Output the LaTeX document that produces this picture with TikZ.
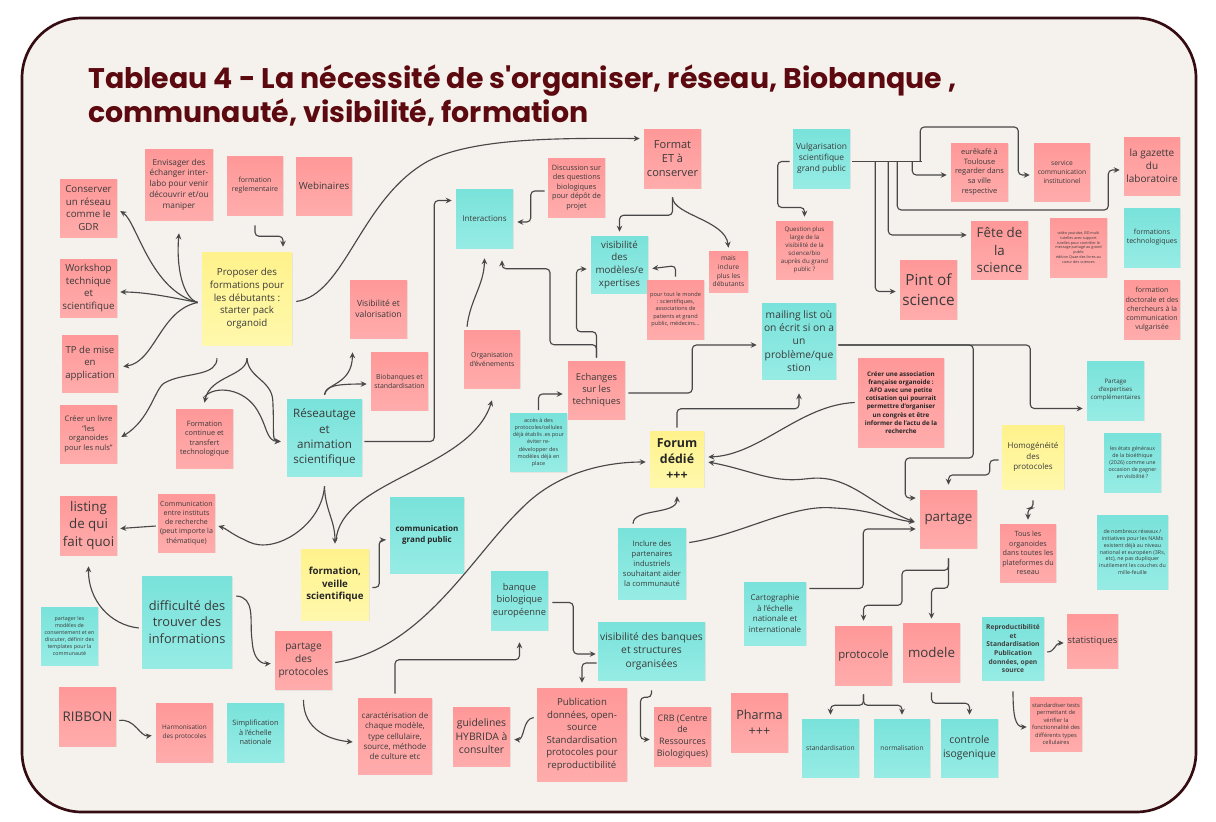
\documentclass[tikz,border=0pt]{standalone}
\usepackage{fontspec}
\setmainfont{Open Sans}
\newfontfamily\titlefont{Poppins}
\usepackage{tikz}
\usetikzlibrary{arrows.meta,calc,shadows}
\definecolor{paper}{RGB}{245,241,236}
\definecolor{framecol}{RGB}{52,12,18}
\definecolor{titlecol}{RGB}{92,10,16}
\definecolor{linkgray}{RGB}{72,72,72}
\definecolor{inkgray}{RGB}{58,58,58}
\definecolor{pinktop}{RGB}{255,152,152}
\definecolor{pinkbot}{RGB}{255,172,172}
\definecolor{tealtop}{RGB}{121,226,218}
\definecolor{tealbot}{RGB}{150,236,229}
\definecolor{yeltop}{RGB}{255,242,140}
\definecolor{yelbot}{RGB}{255,248,172}
\newcommand\notesize[1]{\fontsize{#1pt}{\dimexpr #1pt*13/10\relax}\selectfont}

\begin{document}
\begin{tikzpicture}[x=0.75pt, y=-0.75pt,
    note/.style={align=center, inner sep=0pt, text=inkgray,
        minimum width=42.75pt, minimum height=43.5pt,
        drop shadow={shadow xshift=0.4pt, shadow yshift=-0.9pt, opacity=0.12}},
    sz/.style 2 args={minimum width=#1*0.75pt, minimum height=#2*0.75pt},
    fs/.style={font=\notesize{#1}},
    pk/.style={note, top color=pinktop, bottom color=pinkbot},
    tl/.style={note, top color=tealtop, bottom color=tealbot},
    yl/.style={note, top color=yeltop, bottom color=yelbot},
    link/.style={draw=linkgray, line width=0.85pt, rounded corners=3pt,
        -{Stealth[length=4.5pt, width=4.2pt]}},
]
    \useasboundingbox (0,0) rectangle (1216,821);
    \draw[framecol, line width=2pt, fill=paper, rounded corners=45pt] (22,18) rectangle (1196,812);

    % title
    \node[anchor=base west, inner sep=0pt, text=titlecol, font=\titlefont\bfseries\fontsize{21.3}{26}\selectfont] (title1) at (88,88)
        {Tableau 4 - La nécessité de s'organiser, réseau, Biobanque ,};
    \node[anchor=base west, inner sep=0pt, text=titlecol, font=\titlefont\bfseries\fontsize{21.3}{26}\selectfont] (title2) at (88,122)
        {communauté, visibilité, formation};

    % left column: formations
    \node[pk, fs=7.3] (conserver) at (88.5,208) {Conserver\\un réseau\\comme le\\GDR};
    \node[pk, sz={68}{71}, fs=6.2] (envisager) at (179,184.5) {Envisager des\\échanger inter-\\labo pour venir\\découvrir et/ou\\maniper};
    \node[pk, sz={56}{59}, fs=5.3] (reglement) at (255,185.5) {formation\\reglementaire};
    \node[pk, sz={56}{58}, fs=7.3] (webinaires) at (324,186) {Webinaires};
    \node[pk, fs=7.3] (workshop) at (88.5,288) {Workshop\\technique\\et\\scientifique};
    \node[yl, sz={90}{93}, fs=7.3] (proposer) at (247,298.5) {Proposer des\\formations pour\\les débutants :\\starter pack\\organoid};
    \node[pk, sz={56}{57}, fs=7.2] (tpmise) at (90,363.5) {TP de mise\\en\\application};
    \node[pk, fs=5.7] (livre) at (88.5,434) {Créer un livre\\"les\\organoides\\pour les nuls"};
    \node[pk, sz={57}{59}, fs=5.5] (fcontinue) at (204.5,438.5) {Formation\\continue et\\transfert\\technologique};
    \node[tl, sz={75}{77}, fs=8.7] (reseautage) at (324.5,437.5) {Réseautage\\et\\animation\\scientifique};
    \node[pk, sz={57}{59}, fs=10] (listing) at (88.5,525.5) {listing\\de qui\\fait quoi};
    \node[pk, fs=5.3] (commrech) at (186.5,523) {Communication\\entre instituts\\de recherche\\(peut importe la\\thématique)};
    \node[yl, sz={68}{71}, font=\notesize{7.3}\bfseries, text=black!85] (veille) at (335,584.5) {formation,\\veille\\scientifique};
    \node[tl, sz={90}{92}, fs=9.6] (difficulte) at (187,622) {difficulté des\\trouver des\\informations};
    \node[tl, fs=4] (consent) at (69.5,636) {partager les\\modèles de\\consentement et en\\discuter, définir des\\templates pour la\\communauté};
    \node[pk, fs=7.6] (pprotocoles) at (303.5,660.5) {partage\\des\\protocoles};
    \node[pk, sz={57}{59}, fs=10] (ribbon) at (87.5,716.5) {RIBBON};
    \node[pk, sz={57}{59}, fs=4.8] (harmon) at (184.5,732.5) {Harmonisation\\des protocoles};
    \node[tl, sz={57}{59}, fs=5.5] (simplif) at (255.5,732.5) {Simplification\\à l'échelle\\nationale};

    % centre
    \node[tl, sz={57}{59}, fs=6] (interactions) at (484.5,218.5) {Interactions};
    \node[pk, sz={57}{59}, fs=5.5] (discussion) at (576.5,187.5) {Discussion sur\\des questions\\biologiques\\pour dépôt de\\projet};
    \node[pk, fs=6.4] (visival) at (378.5,309) {Visibilité et\\valorisation};
    \node[pk, fs=5.2] (biobanques) at (399.5,381) {Biobanques et\\standardisation};
    \node[pk, sz={56}{58}, fs=5.2] (organisation) at (492,359) {Organisation\\d'événements};
    \node[pk, fs=7] (echanges) at (596.5,390) {Echanges\\sur les\\techniques};
    \node[pk, sz={57}{59}, fs=8.3] (format) at (672.5,158.5) {Format\\ET à\\conserver};
    \node[tl, sz={57}{59}, fs=6.3] (vulgar) at (821.5,158.5) {Vulgarisation\\scientifique\\grand public};
    \node[tl, sz={57}{57}, fs=7.3] (vismodeles) at (619.5,264.5) {visibilité\\des\\modèles/e\\xpertises};
    \node[pk, sz={39}{41}, fs=5] (debutants) at (728.5,271.5) {mais\\inclure\\plus les\\débutants};
    \node[pk, sz={57}{59}, fs=4.2] (toutmonde) at (675.5,309.5) {pour tout le monde\\: scientifiques,\\associations de\\patients et grand\\public, médecins...};
    \node[pk, fs=4.6] (question) at (804.5,250) {Question plus\\large de la\\visibilité de la\\science/bio\\auprès du grand\\public ?};
    \node[tl, sz={74}{76}, fs=7.7] (mailing) at (799,341) {mailing list où\\on écrit si on a\\un\\problème/que\\stion};
    \node[pk, sz={86}{89}, font=\notesize{4.7}\bfseries, text=black!85] (asso) at (901,402.5) {Créer une association\\française organoide :\\AFO avec une petite\\cotisation qui pourrait\\permettre d'organiser\\un congrès et être\\informer de l'actu de la\\recherche};
    \node[tl, fs=4.1] (acces) at (538.5,442.5) {accès à des\\protocoles/cellules\\déjà établis .es pour\\éviter re-\\développer des\\modèles déjà en\\place};
    \node[yl, sz={54}{56}, font=\notesize{9.3}\bfseries, text=black!85] (forum) at (677,459) {Forum\\dédié\\+++};
    \node[tl, sz={74}{76}, font=\notesize{6}\bfseries, text=black!85] (commgp) at (427,535) {communication\\grand public};
    \node[tl, sz={68}{71}, fs=5.7] (inclure) at (652,563.5) {Inclure des\\partenaires\\industriels\\souhaitant aider\\la communauté};
    \node[tl, sz={62}{63}, fs=6] (cartographie) at (775,613.5) {Cartographie\\à l'échelle\\nationale et\\internationale};
    \node[tl, sz={57}{59}, fs=7] (banque) at (519.5,600.5) {banque\\biologique\\européenne};
    \node[tl, sz={107}{58}, fs=7.7] (visbanques) at (651.5,651) {visibilité des banques\\et structures\\organisées};
    \node[pk, sz={74}{76}, fs=6] (caracter) at (395,736) {caractérisation de\\chaque modèle,\\type cellulaire,\\source, méthode\\de culture etc};
    \node[pk, sz={57}{59}, fs=7.8] (hybrida) at (481.5,736.5) {guidelines\\HYBRIDA à\\consulter};
    \node[pk, sz={90}{93}, fs=7.2] (publication) at (582,734.5) {Publication\\données, open-\\source\\Standardisation\\protocoles pour\\reproductibilité};
    \node[pk, sz={57}{59}, fs=6.7] (crb) at (682.5,736.5) {CRB (Centre\\de\\Ressources\\Biologiques)};
    \node[pk, sz={57}{59}, fs=9.5] (pharma) at (759.5,722.5) {Pharma\\+++};

    % right part
    \node[pk, fs=5.6] (eurekafe) at (979.5,172) {eurêkafé à\\Toulouse\\regarder dans\\sa ville\\respective};
    \node[pk, sz={56}{58}, fs=5] (servcomm) at (1062,172) {service\\communication\\institutionel};
    \node[pk, sz={56}{58}, fs=7.5] (gazette) at (1152,166) {la gazette\\du\\laboratoire};
    \node[pk, fs=10] (fete) at (999.5,250) {Fête de\\la\\science};
    \node[pk, sz={57}{59}, fs=2.8] (youtube) at (1078.5,247.5) {vidéo youtube, BD multi\\tutelles avec support\\tutelles pour contrôler le\\message partagé au grand\\public\\édition Quae des livres au\\coeur des sciences};
    \node[tl, sz={56}{59}, fs=5.3] (ftechno) at (1152,237.5) {formations\\technologiques};
    \node[pk, sz={57}{59}, fs=11.5] (pint) at (928.5,289.5) {Pint of\\science};
    \node[pk, sz={56}{59}, fs=5.3] (fdoct) at (1152,309.5) {formation\\doctorale et des\\chercheurs à la\\communication\\vulgarisée};
    \node[tl, sz={57}{59}, fs=4.6] (expertises) at (1115.5,390.5) {Partage\\d'expertises\\complémentaires};
    \node[yl, sz={62}{64}, fs=6] (homog) at (1033,457) {Homogénéité\\des\\protocoles};
    \node[tl, sz={57}{59}, fs=4] (bioethique) at (1132.5,462.5) {les états généraux\\de la bioéthique\\(2026) comme une\\occasion de gagner\\en visibilité ?};
    \node[pk, fs=10] (partage) at (948.5,519) {partage};
    \node[pk, sz={56}{58}, fs=5.4] (tousorg) at (1028,553) {Tous les\\organoides\\dans toutes les\\plateformes du\\reseau};
    \node[tl, sz={71}{74}, fs=4] (nams) at (1132.5,552) {de nombreux réseaux /\\initiatives pour les NAMs\\existent déjà au niveau\\national et européen (3Rs,\\etc), ne pas dupliquer\\inutilement les couches du\\mille-feuille};
    \node[pk, sz={57}{59}, fs=8.5] (protocole) at (863.5,655.5) {protocole};
    \node[pk, sz={57}{59}, fs=10] (modele) at (931.5,652.5) {modele};
    \node[tl, fs=5] (standard) at (830.5,748) {standardisation};
    \node[tl, sz={56}{58}, fs=5] (normal) at (902,748) {normalisation};
    \node[tl, fs=7.8] (isogen) at (969.5,748) {controle\\isogenique};
    \node[tl, sz={62}{63}, font=\notesize{5}\bfseries, text=black!75] (reprod) at (1013,648.5) {Reproductibilité\\et\\Standardisation\\Publication\\données, open\\source};
    \node[pk, sz={51}{54}, fs=7] (stats) at (1092.5,641) {statistiques};
    \node[pk, sz={52}{54}, fs=4.3] (stdtests) at (1056,724) {standardiser tests\\permettant de\\vérifier la\\fonctionnalité des\\différents types\\cellulaires};

    % connectors, left
    \draw[link] ($(proposer.west)+(-4,4)$) .. controls (150,290) and (137,222) .. ($(conserver.east)+(3,3)$);
    \draw[link] ($(proposer.west)+(-4,4)$) .. controls (183,298) and (176,268) .. ($(envisager.south)+(0,13)$);
    \draw[link] ($(proposer.west)+(-4,4)$) .. controls (170,297) and (145,292) .. ($(workshop.east)+(3,4)$);
    \draw[link] ($(proposer.west)+(-4,4)$) .. controls (160,310) and (155,362) .. ($(tpmise.east)+(5,3)$);
    \draw[link] ($(reglement.south)+(0,10)$) -- ++(0,11) -| ($(proposer.north)+(36,-5)$);
    \draw[link] ($(proposer.east)+(4,3)$) .. controls (345,295) and (360,200) .. (430,160) .. controls (480,138) and (560,138) .. ($(format.west)+(-4,-20)$);
    \draw[link] ($(proposer.south)+(-30,13)$) .. controls (217,375) and (190,373) .. (168,381) .. controls (155,388) and (150,420) .. ($(livre.east)+(4,3)$);
    \draw[link] ($(proposer.south)+(0,13)$) .. controls (247,376) and (210,376) .. ($(fcontinue.north)+(0,-6)$);
    \draw[link] ($(proposer.south)+(0,13)$) .. controls (248,378) and (272,380) .. (273,405) .. controls (274,432) and (272,441) .. ($(reseautage.west)+(-6,4)$);
    \draw[link] ($(fcontinue.north)+(0,-12)$) .. controls (215,385) and (245,388) .. (260,415) .. controls (267,430) and (268,441) .. ($(reseautage.west)+(-6,4)$);
    \draw[link] ($(reseautage.north)+(0,-4)$) .. controls (326,383) and (352,385) .. ($(visival.south)+(-26,14)$);
    \draw[link] ($(reseautage.north)+(0,-4)$) .. controls (326,386) and (335,384) .. ($(biobanques.west)+(-4,3)$);
    \draw[link] ($(reseautage.east)+(2,4)$) -- ++(70,0) |- ($(interactions.west)+(-4,-18)$);
    \draw[link] ($(reseautage.south)+(0,10)$) .. controls (325,510) and (335,520) .. ($(veille.north)+(0,-5)$);
    \draw[link] ($(reseautage.south)+(0,10)$) .. controls (322,525) and (275,555) .. (245,540) .. controls (232,534) and (225,528) .. ($(commrech.east)+(3,3)$);
    \draw[link] ($(veille.north)+(1,-8)$) .. controls (340,480) and (470,470) .. ($(organisation.south)+(0,12)$);
    \draw[link] ($(veille.east)+(3,3)$) -- ++(7,0) |- ($(commgp.west)+(-4,5)$);
    \draw[link] ($(commrech.west)+(-2,3)$) -- ($(listing.east)+(3,3)$);
    \draw[link] ($(difficulte.west)+(-3,6)$) .. controls (110,625) and (88,600) .. ($(listing.south)+(0,11)$);
    \draw[link] ($(difficulte.east)+(4,-26)$) .. controls (255,597) and (250,620) .. (252,640) .. controls (254,660) and (262,664) .. ($(pprotocoles.west)+(-4,3)$);
    \draw[link] ($(pprotocoles.east)+(3,2)$) .. controls (420,650) and (470,560) .. (520,510) .. controls (560,470) and (610,462) .. ($(forum.west)+(-4,3)$);
    \draw[link] ($(pprotocoles.south)+(0,10)$) .. controls (303,730) and (330,740) .. ($(caracter.west)+(-5,6)$);
    \draw[link] ($(ribbon.east)+(3,4)$) .. controls (135,718) and (140,737) .. ($(harmon.west)+(-4,3)$);

    % connectors, centre
    \draw[link] ($(caracter.north)+(0,-4)$) -- ++(0,-34) -| ($(banque.south)+(0,12)$);
    \draw[link] ($(banque.east)+(4,2)$) -- ++(21,0) |- ($(visbanques.west)+(-2,3)$);
    \draw[link] ($(visbanques.west)+(-1,12)$) -| ($(publication.north)+(0,-5)$);
    \draw[link] ($(publication.west)+(-3,-17)$) .. controls (522,719) and (525,740) .. ($(hybrida.east)+(4,3)$);
    \draw[link] ($(visbanques.south)+(0,10)$) -- ++(0,7) -- ++(-11,0) |- ($(crb.west)+(-4,3)$);
    \draw[link] ($(inclure.north)+(-19,-4)$) .. controls (633,508) and (677,515) .. ($(forum.south)+(0,9)$);
    \draw[link] ($(inclure.east)+(3,-21)$) .. controls (740,535) and (790,505) .. (835,508) .. controls (870,510) and (895,520) .. ($(partage.west)+(-5,3)$);
    \draw[link, {Stealth[length=4.5pt, width=4.2pt]}-{Stealth[length=4.5pt, width=4.2pt]}] ($(forum.east)+(4,3)$) .. controls (750,470) and (770,482) .. (805,479) .. controls (850,474) and (870,505) .. ($(partage.west)+(-5,3)$);
    \draw[link] ($(asso.west)+(-3,0)$) .. controls (800,405) and (760,455) .. ($(forum.east)+(4,-2)$);
    \draw[link] ($(cartographie.east)+(3,-25)$) -- ++(54,0) |- ($(partage.west)+(-4,10)$);
    \draw[link] ($(forum.north)+(0,-3)$) -- ++(0,-19) -| ($(mailing.south)+(0,14)$);
    \draw[link] ($(echanges.east)+(3,3)$) -- ++(64,0) |- ($(mailing.west)+(-5,4)$);
    \draw[link] ($(echanges.north)+(0,-3)$) -- ++(0,-13) -- ++(-46.5,0) -- ++(0,-76) -| ($(interactions.south)+(17.5,12)$);
    \draw[link] ($(echanges.north)+(0,-3)$) -- ++(0,-26) -- ++(-20,0) |- ($(vismodeles.west)+(-4,4.5)$);
    \draw[link] ($(organisation.north)+(-25,-3)$) .. controls (470,300) and (484,285) .. ($(interactions.south)+(0,10)$);
    \draw[link] ($(discussion.west)+(-3,3.5)$) -- ++(-14,0) |- ($(interactions.east)+(4,3.5)$);
    \draw[link] ($(format.south)+(0,9)$) -- ++(0,18) -| ($(vismodeles.north)+(0,-4)$);
    \draw[link] ($(format.south)+(0,9)$) .. controls (673,215) and (725,220) .. ($(debutants.north)+(0,-3)$);
    \draw[link] ($(toutmonde.north)+(0,-3)$) -- ++(0,-11) -- ($(vismodeles.east)+(4,4)$);
    \draw[link] ($(acces.north)+(0,-3)$) |- ($(echanges.west)+(-5,4)$);

    % connectors, right
    \draw[link] ($(vulgar.west)+(-3,3)$) -- ++(-12,0) -- ++(0,46) -| ($(question.north)+(0,-4)$);
    \draw[linkgray, line width=1.4pt] ($(vulgar.east)+(2,3)$) -- ++(70,0);
    \foreach \dx/\tgt/\dy in {25/pint/2, 38/fete/-15, 62/eurekafe/3} {
        \draw[link] ($(vulgar.east)+(\dx,3)$) |- ($(\tgt.west)+(-4,\dy)$);
    }
    \draw[link] ($(vulgar.east)+(47,3)$) -- ++(0,48.5) -- ++(211,0) |- ($(gazette.west)+(-4,4)$);
    \draw[link] ($(vulgar.east)+(70,3)$) -- ++(0,-34.5) -- ++(98,0) |- ($(servcomm.west)+(-4,3)$);
    \draw[link] ($(mailing.east)+(2,4)$) -- ++(192,0) |- ($(expertises.west)+(-4,18)$);
    \draw[link] ($(mailing.east)+(2,4)$) -- ++(135,0) -- ++(0,113) -- ++(-68,0) |- ($(partage.west)+(-4,-21)$);
    \draw[link] ($(homog.west)+(-3,3)$) -- ++(-9,0) -- ++(0,15) -| ($(partage.north)+(0,-5)$);
    \draw[link] ($(homog.south)+(0,11)$) -- ++(0,8) -| ($(tousorg.north)+(0,-4)$);
    \draw[link] ($(partage.south)+(0,10)$) -- ++(0,12) -- ++(-46.5,0) -- ++(0,35) -| ($(protocole.north)+(0,-5)$);
    \draw[link] ($(partage.south)+(0,10)$) -- ++(0,30) -| ($(modele.north)+(0,-4)$);
    \draw[link] ($(protocole.south)+(0,9)$) -- ++(0,11) -| ($(standard.north)+(0,-4)$);
    \draw[link] ($(protocole.south)+(0,9)$) -- ++(0,11) -| ($(normal.north)+(0,-4)$);
    \draw[link] ($(modele.south)+(0,10)$) -- ++(0,11) -| ($(isogen.north)+(0,-4)$);
    \draw[link] ($(reprod.east)+(3,3.5)$) .. controls (1055,652) and (1055,643) .. ($(stats.west)+(-3,2)$);
    \draw[link] ($(reprod.south)+(0,11)$) .. controls (1013,715) and (1015,727) .. ($(stdtests.west)+(-3,3)$);
\end{tikzpicture}
\end{document}
